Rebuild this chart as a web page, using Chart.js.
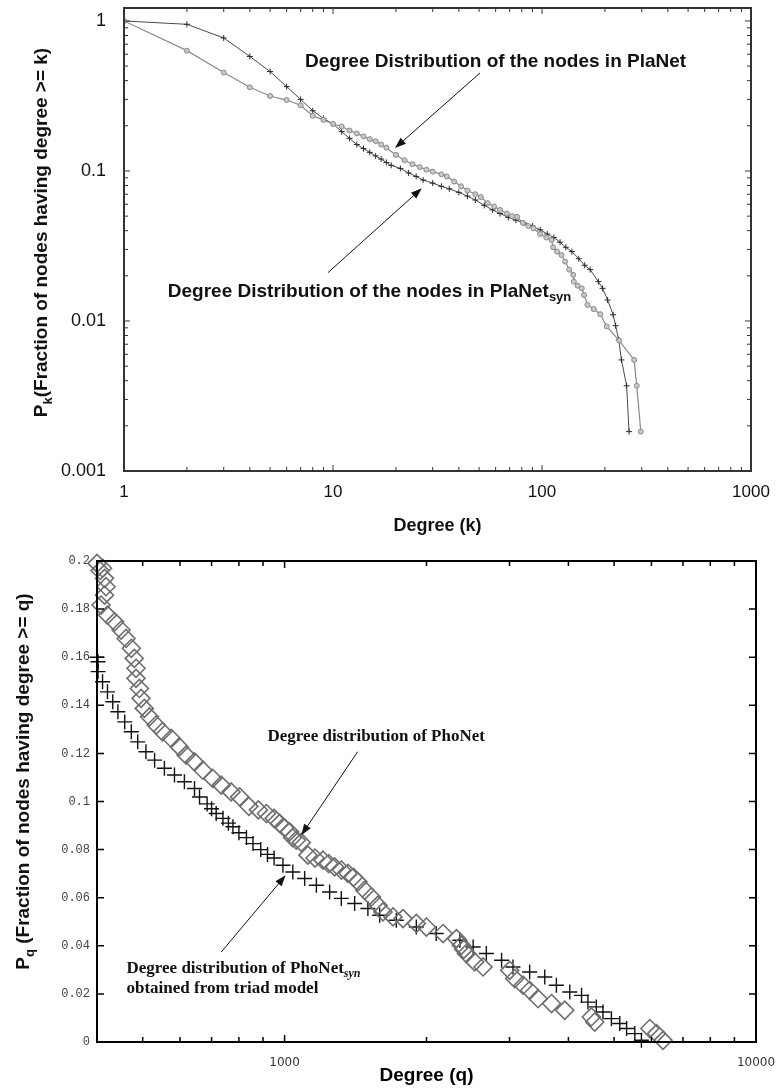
<!DOCTYPE html>
<html>
<head>
<meta charset="utf-8">
<script src="https://cdn.jsdelivr.net/npm/chart.js@4.4.0/dist/chart.umd.min.js"></script>
<style>
  body { margin: 0; background: #fff; }
  canvas { display: block; }
</style>
</head>
<body>
<canvas id="planetChart" width="778" height="545"></canvas>
<canvas id="phonetChart" width="778" height="546"></canvas>
<script>
// ---- top chart: PlaNet degree distribution (log-log) ----
const planetDegree = [1, 2, 3, 4, 5, 6, 7, 8, 9, 10, 11, 12, 13, 14, 15, 16, 17, 18, 20, 22, 24, 26, 28, 30, 33, 35, 38, 41, 44, 48, 51, 55, 59, 63, 68, 72, 76, 81, 86, 91, 98, 105, 111, 113, 118, 124, 129, 135, 141, 142, 148, 155, 159, 165, 177, 190, 204, 234, 276, 284, 297];
const planetFrac = [1, 0.634, 0.453, 0.361, 0.316, 0.297, 0.274, 0.233, 0.219, 0.206, 0.198, 0.186, 0.178, 0.170, 0.163, 0.158, 0.150, 0.143, 0.128, 0.118, 0.111, 0.106, 0.102, 0.099, 0.095, 0.092, 0.085, 0.079, 0.074, 0.070, 0.067, 0.061, 0.058, 0.055, 0.052, 0.050, 0.0495, 0.045, 0.043, 0.0415, 0.038, 0.036, 0.0347, 0.031, 0.029, 0.0275, 0.0249, 0.022, 0.0203, 0.0183, 0.0172, 0.0165, 0.0149, 0.0128, 0.0120, 0.0111, 0.0092, 0.0074, 0.0055, 0.0037, 0.00183];

const planetSynDegree = [1, 2, 3, 4, 5, 6, 7, 8, 9, 10, 11, 12, 13, 14, 15, 16, 17, 18, 19, 21, 23, 25, 27, 30, 33, 36, 40, 44, 48, 53, 58, 63, 69, 75, 82, 90, 98, 106, 114, 122, 130, 139, 150, 160, 170, 186, 195, 206, 219, 225, 233, 240, 254, 261];
const planetSynFrac = [1, 0.95, 0.77, 0.58, 0.46, 0.365, 0.30, 0.252, 0.224, 0.206, 0.183, 0.165, 0.150, 0.141, 0.133, 0.126, 0.120, 0.114, 0.109, 0.104, 0.097, 0.092, 0.087, 0.083, 0.079, 0.076, 0.072, 0.068, 0.064, 0.059, 0.055, 0.052, 0.049, 0.047, 0.045, 0.043, 0.0405, 0.038, 0.036, 0.0335, 0.031, 0.029, 0.026, 0.0235, 0.022, 0.0183, 0.0165, 0.0138, 0.011, 0.0093, 0.0075, 0.0055, 0.0037, 0.00183];

const topXTicks = [1, 10, 100, 1000];
const topYTicks = [0.001, 0.01, 0.1, 1];

// ---- bottom chart: PhoNet degree distribution (log x, linear y) ----
const phonetDegree = [400, 406, 411, 415, 418, 415, 408, 421, 436, 450, 461, 473, 480, 484, 484, 492, 496, 504, 517, 534, 551, 575, 598, 618, 644, 671, 704, 734, 770, 803, 840, 880, 915, 950, 976, 1000, 1025, 1040, 1059, 1085, 1121, 1160, 1206, 1240, 1277, 1320, 1363, 1400, 1431, 1479, 1528, 1578, 1617, 1698, 1783, 1903, 1999, 2169, 2315, 2371, 2400, 2430, 2531, 2636, 3003, 3077, 3205, 3310, 3449, 3684, 3929, 4474, 4549, 5955, 6151, 6350];
const phonetFrac = [0.199, 0.196, 0.197, 0.1928, 0.1893, 0.1858, 0.1817, 0.1775, 0.1747, 0.1713, 0.1678, 0.1637, 0.1595, 0.1554, 0.1512, 0.147, 0.1429, 0.1387, 0.1352, 0.1318, 0.129, 0.1262, 0.1227, 0.1193, 0.1165, 0.113, 0.1096, 0.1068, 0.104, 0.1019, 0.098, 0.0965, 0.095, 0.093, 0.0909, 0.089, 0.0874, 0.085, 0.0839, 0.083, 0.0777, 0.0765, 0.0756, 0.0742, 0.0728, 0.0715, 0.0701, 0.0685, 0.0666, 0.0631, 0.0603, 0.0569, 0.0541, 0.052, 0.0513, 0.0493, 0.0478, 0.0451, 0.043, 0.0402, 0.0385, 0.0368, 0.0333, 0.0312, 0.0298, 0.0264, 0.0236, 0.0215, 0.018, 0.016, 0.0132, 0.0104, 0.0083, 0.0056, 0.0035, 0.0007];

const phonetSynDegree = [400, 402, 402, 411, 421, 432, 443, 458, 473, 488, 508, 530, 556, 584, 613, 644, 660, 685, 700, 716, 740, 760, 777, 800, 830, 857, 890, 920, 950, 992, 1041, 1103, 1168, 1246, 1319, 1408, 1502, 1591, 1726, 1903, 2097, 2354, 2512, 2679, 2886, 3051, 3310, 3564, 3772, 4027, 4265, 4400, 4584, 4735, 4935, 5140, 5315, 5532, 5714];
const phonetSynFrac = [0.160, 0.1581, 0.154, 0.1498, 0.1456, 0.1415, 0.1373, 0.1331, 0.129, 0.1248, 0.1207, 0.1172, 0.1138, 0.111, 0.1082, 0.1054, 0.1019, 0.099, 0.097, 0.095, 0.093, 0.091, 0.0895, 0.087, 0.085, 0.0825, 0.080, 0.078, 0.0765, 0.0735, 0.0707, 0.068, 0.0652, 0.0624, 0.0597, 0.0576, 0.0555, 0.0527, 0.0506, 0.0478, 0.0451, 0.0423, 0.0395, 0.0368, 0.034, 0.0312, 0.0291, 0.027, 0.0236, 0.0208, 0.0194, 0.0166, 0.0146, 0.0125, 0.0097, 0.0077, 0.0056, 0.0035, 0.0007];

const bottomXTicks = [1000, 10000];
const bottomYTicks = [0, 0.02, 0.04, 0.06, 0.08, 0.1, 0.12, 0.14, 0.16, 0.18, 0.2];

const SANS = '"Liberation Sans", Arial, sans-serif';
const SERIF = '"Liberation Serif", "Times New Roman", serif';

const pts = (xs, ys) => xs.map((v, i) => ({ x: v, y: ys[i] }));

// minor tick positions of a log axis between two decades
function logMinors(from, to) {
  const out = [];
  for (let d = from; d < to; d *= 10) {
    for (let m = 2; m <= 9; m++) out.push(d * m);
  }
  return out;
}

// fixed axis box sizes, and no extra room for overhanging labels
const fixWidth = w => s => { s.width = w; s.paddingTop = 0; s.paddingBottom = 0; };
const fixHeight = h => s => { s.height = h; s.paddingLeft = 0; s.paddingRight = 0; };

// text made of normal and subscript pieces
function drawRich(ctx, parts, x, y, font, subFont, align) {
  let total = 0;
  parts.forEach(([t, sub]) => {
    ctx.font = sub ? subFont : font;
    total += ctx.measureText(t).width;
  });
  let cx = align === 'center' ? x - total / 2 : x;
  ctx.textAlign = 'left';
  ctx.textBaseline = 'middle';
  parts.forEach(([t, sub]) => {
    ctx.font = sub ? subFont : font;
    ctx.fillText(t, cx, sub ? y + 6 : y);
    cx += ctx.measureText(t).width;
  });
}

function drawArrow(ctx, x1, y1, x2, y2) {
  const ang = Math.atan2(y2 - y1, x2 - x1);
  const len = 11, half = 4;
  ctx.beginPath();
  ctx.moveTo(x1, y1);
  ctx.lineTo(x2 - Math.cos(ang) * len * 0.8, y2 - Math.sin(ang) * len * 0.8);
  ctx.stroke();
  ctx.beginPath();
  ctx.moveTo(x2, y2);
  ctx.lineTo(x2 - Math.cos(ang) * len - Math.sin(ang) * half, y2 - Math.sin(ang) * len + Math.cos(ang) * half);
  ctx.lineTo(x2 - Math.cos(ang) * len + Math.sin(ang) * half, y2 - Math.sin(ang) * len - Math.cos(ang) * half);
  ctx.closePath();
  ctx.fill();
}

// plot frame with inward ticks on all four sides
const frameTicks = {
  id: 'frameTicks',
  afterDraw(chart, args, o) {
    const { ctx, chartArea: a, scales: { x, y } } = chart;
    ctx.save();
    ctx.strokeStyle = o.color;
    ctx.lineWidth = o.tickWidth;
    ctx.beginPath();
    const xt = (list, len) => list.forEach(v => {
      const px = x.getPixelForValue(v);
      ctx.moveTo(px, a.bottom); ctx.lineTo(px, a.bottom - len);
      ctx.moveTo(px, a.top); ctx.lineTo(px, a.top + len);
    });
    const yt = (list, len) => list.forEach(v => {
      const py = y.getPixelForValue(v);
      ctx.moveTo(a.left, py); ctx.lineTo(a.left + len, py);
      ctx.moveTo(a.right, py); ctx.lineTo(a.right - len, py);
    });
    xt(o.xMajor, o.majorLen);
    xt(o.xMinor, o.minorLen);
    yt(o.yMajor, o.majorLen);
    yt(o.yMinor, o.minorLen);
    ctx.stroke();
    ctx.lineWidth = o.frameWidth;
    ctx.strokeRect(a.left, a.top, a.width, a.height);
    ctx.restore();
  }
};

// notes, arrows and rotated y title (with subscript)
const annotate = {
  id: 'annotate',
  afterDraw(chart, args, o) {
    const { ctx, chartArea: a, scales: { x, y } } = chart;
    ctx.save();
    ctx.fillStyle = o.color;
    ctx.strokeStyle = o.color;
    ctx.lineWidth = 1;
    o.notes.forEach(n => {
      drawRich(ctx, n.parts, x.getPixelForValue(n.at[0]), y.getPixelForValue(n.at[1]), o.font, o.subFont, 'left');
    });
    o.arrows.forEach(ar => {
      drawArrow(ctx, x.getPixelForValue(ar.from[0]), y.getPixelForValue(ar.from[1]),
        x.getPixelForValue(ar.to[0]), y.getPixelForValue(ar.to[1]));
    });
    const t = o.yTitle;
    ctx.translate(t.x, (a.top + a.bottom) / 2 + t.dy);
    ctx.rotate(-Math.PI / 2);
    drawRich(ctx, t.parts, 0, 0, t.font, t.subFont, 'center');
    ctx.restore();
  }
};

new Chart(document.getElementById('planetChart'), {
  type: 'scatter',
  data: {
    datasets: [
      {
        label: 'PlaNet',
        data: pts(planetDegree, planetFrac),
        showLine: true,
        borderColor: '#8a8a8a',
        borderWidth: 1.2,
        pointStyle: 'circle',
        pointRadius: 2.5,
        pointBackgroundColor: '#c8c8c8',
        pointBorderColor: '#8a8a8a',
        pointBorderWidth: 1
      },
      {
        label: 'PlaNet syn',
        data: pts(planetSynDegree, planetSynFrac),
        showLine: true,
        borderColor: '#4a4a4a',
        borderWidth: 1,
        pointStyle: 'cross',
        pointRadius: 3,
        pointBorderColor: '#2a2a2a',
        pointBorderWidth: 1
      }
    ]
  },
  options: {
    responsive: false,
    animation: false,
    layout: { autoPadding: false, padding: { top: 8, right: 27, left: 0, bottom: 0 } },
    plugins: {
      legend: { display: false },
      tooltip: { enabled: false },
      frameTicks: {
        color: '#333', tickWidth: 1, frameWidth: 2, majorLen: 6, minorLen: 4,
        xMajor: topXTicks, xMinor: logMinors(1, 1000),
        yMajor: topYTicks, yMinor: logMinors(0.001, 1)
      },
      annotate: {
        color: '#111',
        font: 'bold 19px ' + SANS,
        subFont: 'bold 13px ' + SANS,
        notes: [
          { at: [7.35, 0.533], parts: [['Degree Distribution of the nodes in PlaNet', false]] },
          { at: [1.62, 0.0157], parts: [['Degree Distribution of the nodes in PlaNet', false], ['syn', true]] }
        ],
        arrows: [
          { from: [50.5, 0.45], to: [19.8, 0.142] },
          { from: [9.46, 0.021], to: [26.6, 0.0767] }
        ],
        yTitle: {
          x: 42, dy: -7,
          font: 'bold 19px ' + SANS, subFont: 'bold 13px ' + SANS,
          parts: [['P', false], ['k', true], ['(Fraction of nodes having degree >= k)', false]]
        }
      }
    },
    scales: {
      x: {
        type: 'logarithmic',
        min: 1,
        max: 1000,
        afterBuildTicks: s => { s.ticks = topXTicks.map(v => ({ value: v })); },
        afterFit: fixHeight(74),
        ticks: {
          callback: v => String(v),
          font: { family: SANS, size: 17 },
          color: '#111',
          padding: 11,
          maxRotation: 0,
          autoSkip: false
        },
        grid: { display: false, drawTicks: false },
        border: { display: false },
        title: {
          display: true,
          text: 'Degree (k)',
          font: { family: SANS, size: 18, weight: 'bold' },
          color: '#111',
          padding: { top: 0, bottom: 8 }
        }
      },
      y: {
        type: 'logarithmic',
        min: 0.001,
        max: 1.22,
        afterBuildTicks: s => { s.ticks = topYTicks.map(v => ({ value: v })); },
        afterFit: fixWidth(124),
        ticks: {
          callback: v => String(v),
          font: { family: SANS, size: 18 },
          color: '#111',
          padding: 18,
          autoSkip: false
        },
        grid: { display: false, drawTicks: false },
        border: { display: false }
      }
    }
  },
  plugins: [frameTicks, annotate]
});

new Chart(document.getElementById('phonetChart'), {
  type: 'scatter',
  data: {
    datasets: [
      {
        label: 'PhoNet',
        data: pts(phonetDegree, phonetFrac),
        pointStyle: 'rectRot',
        pointRadius: 9,
        pointBackgroundColor: 'rgba(255,255,255,0)',
        pointBorderColor: '#6e6e6e',
        pointBorderWidth: 1.6,
        clip: false
      },
      {
        label: 'PhoNet syn',
        data: pts(phonetSynDegree, phonetSynFrac),
        pointStyle: 'cross',
        pointRadius: 7.5,
        pointBorderColor: '#111',
        pointBorderWidth: 1.4,
        clip: false
      }
    ]
  },
  options: {
    responsive: false,
    animation: false,
    layout: { autoPadding: false, padding: { top: 16, right: 22, left: 0, bottom: 0 } },
    plugins: {
      legend: { display: false },
      tooltip: { enabled: false },
      frameTicks: {
        color: '#000', tickWidth: 1.5, frameWidth: 2, majorLen: 7, minorLen: 5,
        xMajor: bottomXTicks, xMinor: logMinors(100, 10000).filter(v => v > 400),
        yMajor: bottomYTicks, yMinor: []
      },
      annotate: {
        color: '#111',
        font: 'bold 17px ' + SERIF,
        subFont: 'italic bold 12px ' + SERIF,
        notes: [
          { at: [920, 0.1269], parts: [['Degree distribution of PhoNet', false]] },
          { at: [462, 0.0307], parts: [['Degree distribution of PhoNet', false], ['syn', true]] },
          { at: [462, 0.0223], parts: [['obtained from triad model', false]] }
        ],
        arrows: [
          { from: [1429, 0.1207], to: [1085, 0.086] },
          { from: [734, 0.0374], to: [1005, 0.0693] }
        ],
        yTitle: {
          x: 24, dy: -20,
          font: 'bold 19px ' + SANS, subFont: 'bold 13px ' + SANS,
          parts: [['P', false], ['q', true], [' (Fraction of nodes having degree >= q)', false]]
        }
      }
    },
    scales: {
      x: {
        type: 'logarithmic',
        min: 400,
        max: 10000,
        afterBuildTicks: s => { s.ticks = bottomXTicks.map(v => ({ value: v })); },
        afterFit: fixHeight(49),
        ticks: {
          callback: v => String(v),
          font: { family: '"DejaVu Sans", sans-serif', size: 12 },
          color: '#333',
          padding: 14,
          maxRotation: 0,
          autoSkip: false
        },
        grid: { display: false, drawTicks: false },
        border: { display: false },
        title: {
          display: true,
          text: 'Degree (q)',
          font: { family: SANS, size: 19, weight: 'bold' },
          color: '#000',
          padding: { top: 0, bottom: 4 }
        }
      },
      y: {
        type: 'linear',
        min: 0,
        max: 0.2,
        afterBuildTicks: s => { s.ticks = bottomYTicks.map(v => ({ value: v })); },
        afterFit: fixWidth(97),
        ticks: {
          callback: v => (v === 0 ? '0' : v.toFixed(2).replace(/0$/, '')),
          font: { family: '"Liberation Mono", monospace', size: 12 },
          color: '#444',
          padding: 7,
          autoSkip: false
        },
        grid: { display: false, drawTicks: false },
        border: { display: false }
      }
    }
  },
  plugins: [frameTicks, annotate]
});
</script>
</body>
</html>
